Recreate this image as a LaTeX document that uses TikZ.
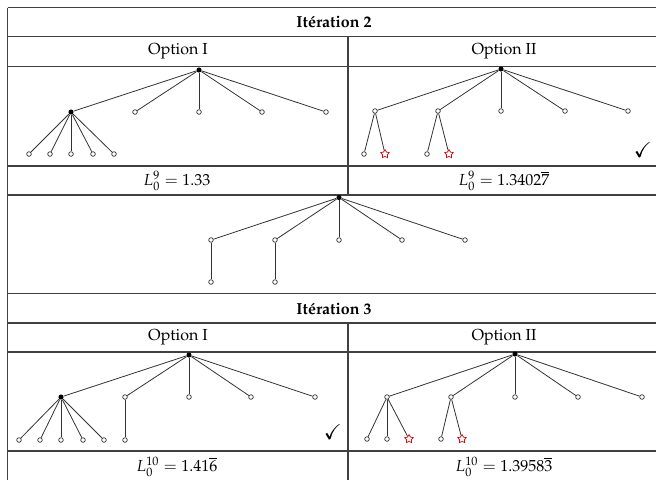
\documentclass[tikz,border=0pt]{standalone}
\usepackage[T1]{fontenc}
\usepackage{amsmath, amssymb}
\usepackage{mathpazo}
\usetikzlibrary{shapes.geometric}

\tikzset{
  rule/.style={draw=black!75, line width=0.7pt},
  edge/.style={draw=black!80, line width=0.5pt},
  full/.style={circle, fill=black, inner sep=0pt, minimum size=3.2pt},
  open/.style={circle, draw=black!80, fill=white, line width=0.45pt, inner sep=0pt, minimum size=2.9pt},
  pick/.style={star, star points=5, star point ratio=1.8, draw=red!85!black, fill=white,
    line width=0.45pt, inner sep=0pt, minimum size=5.5pt},
  tick/.style={scale=1.3},
}

\begin{document}
\begin{tikzpicture}[x=0.625pt, y=-0.625pt]
% pixel grid of the table: x to the right, y downwards
\useasboundingbox (0,0) rectangle (656,479);

% --- Table rules ---
\foreach \y in {7.5,36.5,66.5,166,195,293.5,323,352,451}
  \draw[rule] (7.5,\y) -- (662,\y);
\draw[rule] (7.5,7.5) -- (7.5,482);
\draw[rule] (348,36.5) -- (348,195);
\draw[rule] (348,323) -- (348,482);

% --- Headers ---
\node[font=\bfseries] (it2) at (334,22) {It\'eration 2};
\node (opA) at (178,51.5) {Option I};
\node (opB) at (504,51.5) {Option II};
\node[font=\bfseries] (it3) at (334,308.5) {It\'eration 3};
\node (opC) at (178,337.5) {Option I};
\node (opD) at (504,337.5) {Option II};

% --- Values ---
\node (valA) at (177,181) {$L_0^{9} = 1.33$};
\node (valB) at (504,181) {$L_0^{9} = 1.3402\overline{7}$};
\node (valC) at (177,467) {$L_0^{10} = 1.41\overline{6}$};
\node (valD) at (504,467) {$L_0^{10} = 1.3958\overline{3}$};

% --- Iteration 2, option I ---
\node[full] (aR) at (199,70) {};
\node[full] (a1) at (71,112) {};
\foreach \i/\x in {2/135,3/199,4/262,5/326}
  \node[open] (a\i) at (\x,112) {};
\foreach \i/\x in {1/29,2/50,3/71,4/93,5/114}
  \node[open] (a1\i) at (\x,154) {};
\foreach \i in {1,...,5} \draw[edge] (aR) -- (a\i);
\foreach \i in {1,...,5} \draw[edge] (a1) -- (a1\i);

% --- Iteration 2, option II ---
\node[full] (bR) at (501,69) {};
\foreach \i/\x in {1/375,2/438,3/501,4/565,5/628}
  \node[open] (b\i) at (\x,111) {};
\node[open] (b11) at (364,154) {};
\node[pick] (b12) at (385,154) {};
\node[open] (b21) at (427,154) {};
\node[pick] (b22) at (449,154) {};
\foreach \i in {1,...,5} \draw[edge] (bR) -- (b\i);
\draw[edge] (b1) -- (b11);
\draw[edge] (b1) -- (b12);
\draw[edge] (b2) -- (b21);
\draw[edge] (b2) -- (b22);
\node[tick] (okB) at (643,150) {$\checkmark$};

% --- Chosen tree ---
\node[full] (cR) at (339,197.5) {};
\foreach \i/\x in {1/211,2/275,3/339,4/402,5/465}
  \node[open] (c\i) at (\x,240) {};
\node[open] (c11) at (211,282) {};
\node[open] (c21) at (275,282) {};
\foreach \i in {1,...,5} \draw[edge] (cR) -- (c\i);
\draw[edge] (c1) -- (c11);
\draw[edge] (c2) -- (c21);

% --- Iteration 3, option I ---
\node[full] (dR) at (189,355) {};
\node[full] (d1) at (61,397) {};
\foreach \i/\x in {2/125,3/189,4/251,5/315}
  \node[open] (d\i) at (\x,397) {};
\foreach \i/\x in {1/19,2/40,3/61,4/83,5/104}
  \node[open] (d1\i) at (\x,440) {};
\node[open] (d21) at (125,440) {};
\foreach \i in {1,...,5} \draw[edge] (dR) -- (d\i);
\foreach \i in {1,...,5} \draw[edge] (d1) -- (d1\i);
\draw[edge] (d2) -- (d21);
\node[tick] (okC) at (333,432) {$\checkmark$};

% --- Iteration 3, option II ---
\node[full] (eR) at (515,354) {};
\foreach \i/\x in {1/387,2/451,3/515,4/578,5/642}
  \node[open] (e\i) at (\x,397) {};
\node[open] (e11) at (367,439) {};
\node[open] (e12) at (387,439) {};
\node[pick] (e13) at (409,439) {};
\node[open] (e21) at (441,439) {};
\node[pick] (e22) at (462,439) {};
\foreach \i in {1,...,5} \draw[edge] (eR) -- (e\i);
\foreach \i in {1,2,3} \draw[edge] (e1) -- (e1\i);
\foreach \i in {1,2} \draw[edge] (e2) -- (e2\i);
\end{tikzpicture}
\end{document}
